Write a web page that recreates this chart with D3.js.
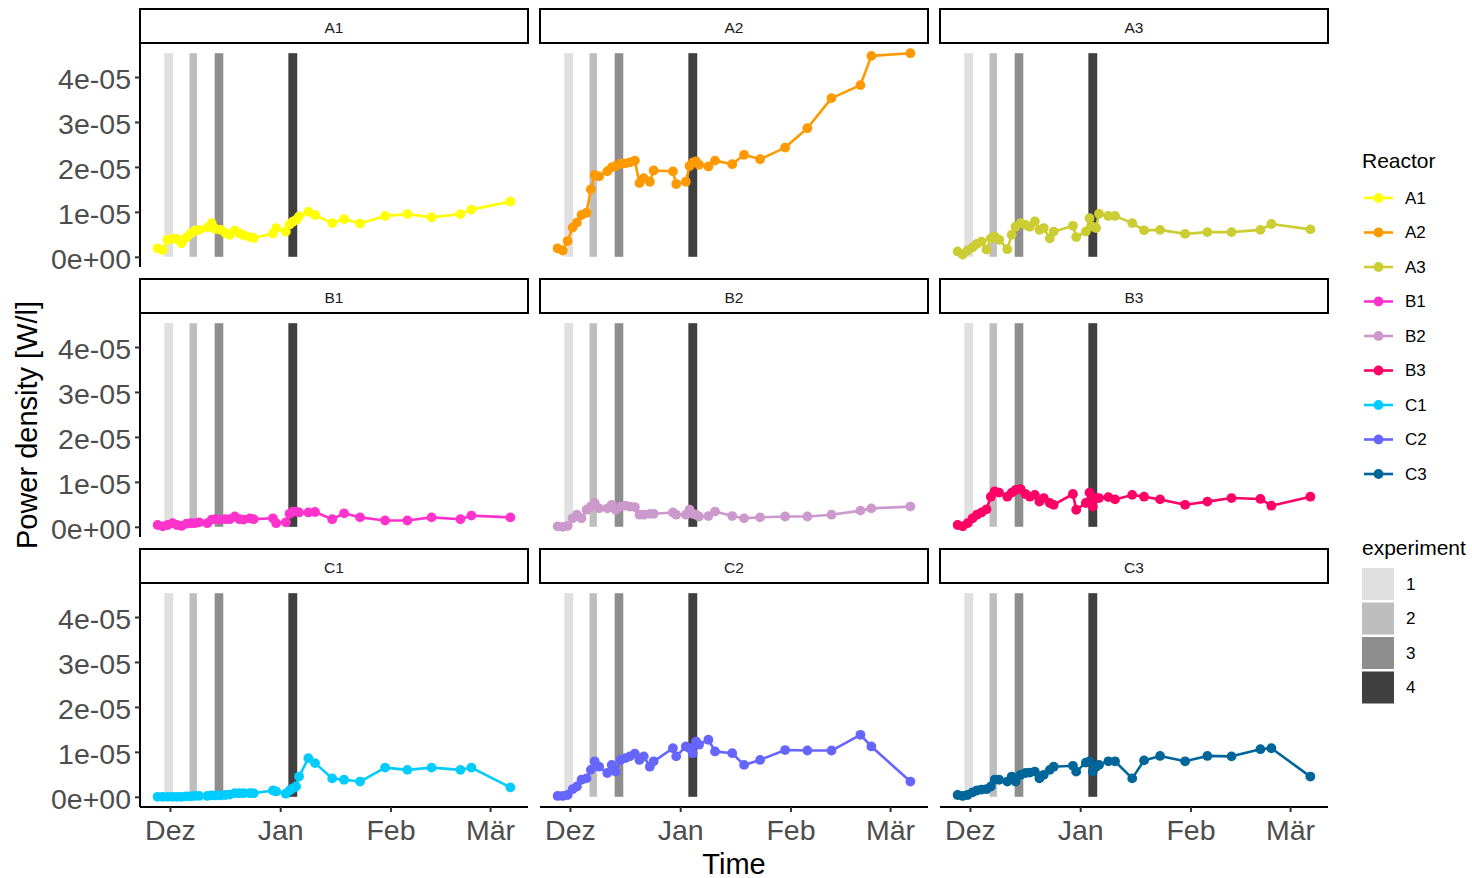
<!DOCTYPE html>
<html>
<head>
<meta charset="utf-8">
<script src="https://cdn.jsdelivr.net/npm/d3@7"></script>
<style>
  body { margin: 0; background: #fff; }
  svg { display: block; font-family: "Liberation Sans", Arial, sans-serif; }
</style>
</head>
<body>
<svg id="chart" width="1472" height="878"></svg>
<script>
// Measurement times shared by all reactors
const times = [
  "2018-11-27 13:00", "2018-11-28 23:00", "2018-11-30 08:00", "2018-12-01 18:00",
  "2018-12-02 23:00", "2018-12-04 06:00", "2018-12-05 16:00", "2018-12-06 21:00",
  "2018-12-07 23:00", "2018-12-09 05:00", "2018-12-11 12:00", "2018-12-12 18:00",
  "2018-12-13 20:00", "2018-12-15 06:00", "2018-12-16 15:00", "2018-12-17 20:00",
  "2018-12-19 06:00", "2018-12-20 13:00", "2018-12-21 18:00", "2018-12-23 11:00",
  "2018-12-24 13:00", "2018-12-29 23:00", "2018-12-30 21:00", "2019-01-02 14:00",
  "2019-01-03 15:00", "2019-01-04 13:00", "2019-01-05 11:00", "2019-01-06 07:00",
  "2019-01-08 22:00", "2019-01-10 19:00", "2019-01-15 15:00", "2019-01-18 23:00",
  "2019-01-23 11:00", "2019-01-30 12:00", "2019-02-05 18:00", "2019-02-12 13:00",
  "2019-02-20 16:00", "2019-02-23 18:00", "2019-03-06 17:00"
];

const reactors = ["A1", "A2", "A3", "B1", "B2", "B3", "C1", "C2", "C3"];
const reactorColors = ["#FFFF00", "#FF9900", "#CCCC33", "#FF33CC", "#CC99CC",
                       "#FF0066", "#00CCFF", "#6666FF", "#006699"];

// Power density per reactor, in units of 1e-05 W/l
const powerA1 = [0.19, 0.15, 0.38, 0.40, 0.40, 0.30, 0.43, 0.52, 0.58, 0.60, 0.65, 0.75, 0.62,
                 0.60, 0.53, 0.49, 0.58, 0.52, 0.48, 0.44, 0.42, 0.52, 0.64, 0.56, 0.72, 0.78,
                 0.82, 0.90, 1.00, 0.93, 0.75, 0.84, 0.74, 0.91, 0.95, 0.88, 0.95, 1.05, 1.23];
const powerA2 = [0.19, 0.14, 0.35, 0.65, 0.76, 0.93, 0.98, 1.50, 1.82, 1.79, 1.90, 1.99, 2.02,
                 2.07, 2.08, 2.10, 2.14, 1.64, 1.75, 1.67, 1.92, 1.90, 1.62, 1.67, 2.02, 2.10,
                 2.12, 2.05, 2.01, 2.14, 2.06, 2.27, 2.17, 2.43, 2.86, 3.53, 3.82, 4.47, 4.53];
const powerA3 = [0.12, 0.05, 0.14, 0.21, 0.29, 0.34, 0.16, 0.41, 0.45, 0.38, 0.17, 0.49, 0.67,
                 0.75, 0.71, 0.67, 0.79, 0.60, 0.64, 0.41, 0.56, 0.69, 0.44, 0.56, 0.86, 0.67,
                 0.64, 0.96, 0.91, 0.91, 0.75, 0.59, 0.60, 0.51, 0.55, 0.55, 0.60, 0.73, 0.61];
const powerB1 = [0.04, 0.01, 0.04, 0.08, 0.04, 0.02, 0.07, 0.08, 0.08, 0.10, 0.08, 0.16, 0.17,
                 0.16, 0.17, 0.17, 0.23, 0.17, 0.16, 0.19, 0.17, 0.19, 0.08, 0.10, 0.29, 0.34,
                 0.34, 0.32, 0.32, 0.33, 0.17, 0.30, 0.21, 0.14, 0.14, 0.21, 0.17, 0.25, 0.21];
const powerB2 = [0.01, 0.00, 0.02, 0.19, 0.27, 0.19, 0.38, 0.45, 0.53, 0.41, 0.41, 0.49, 0.38,
                 0.45, 0.47, 0.45, 0.44, 0.27, 0.27, 0.29, 0.29, 0.32, 0.27, 0.27, 0.38, 0.29,
                 0.27, 0.23, 0.24, 0.34, 0.24, 0.19, 0.21, 0.23, 0.23, 0.27, 0.36, 0.41, 0.45];
const powerB3 = [0.04, 0.01, 0.08, 0.19, 0.27, 0.32, 0.39, 0.67, 0.79, 0.76, 0.67, 0.76, 0.82,
                 0.84, 0.73, 0.67, 0.71, 0.56, 0.64, 0.53, 0.49, 0.73, 0.38, 0.53, 0.76, 0.45,
                 0.64, 0.64, 0.66, 0.61, 0.71, 0.67, 0.61, 0.49, 0.56, 0.64, 0.62, 0.47, 0.67];
const powerC1 = [0.00, 0.00, 0.00, 0.00, 0.00, 0.00, 0.01, 0.01, 0.02, 0.02, 0.02, 0.03, 0.03,
                 0.03, 0.04, 0.05, 0.08, 0.08, 0.08, 0.08, 0.08, 0.14, 0.12, 0.07, 0.14, 0.19,
                 0.23, 0.45, 0.86, 0.75, 0.41, 0.38, 0.34, 0.65, 0.60, 0.65, 0.60, 0.65, 0.21];
const powerC2 = [0.02, 0.02, 0.04, 0.17, 0.23, 0.38, 0.41, 0.60, 0.79, 0.67, 0.53, 0.71, 0.56,
                 0.82, 0.86, 0.90, 0.96, 0.82, 0.90, 0.67, 0.79, 1.08, 0.90, 1.12, 1.08, 0.97,
                 1.23, 1.16, 1.27, 1.01, 0.97, 0.71, 0.82, 1.04, 1.03, 1.03, 1.38, 1.12, 0.34];
const powerC3 = [0.04, 0.02, 0.04, 0.10, 0.14, 0.16, 0.17, 0.23, 0.38, 0.38, 0.34, 0.45, 0.34,
                 0.49, 0.53, 0.54, 0.56, 0.41, 0.49, 0.60, 0.67, 0.69, 0.56, 0.76, 0.79, 0.56,
                 0.67, 0.71, 0.79, 0.79, 0.41, 0.81, 0.91, 0.79, 0.91, 0.90, 1.06, 1.08, 0.45];

// Experiment periods (shaded bands)
const experiments = ["1", "2", "3", "4"];
const expStart = ["2018-11-29 10:00", "2018-12-06 12:00", "2018-12-13 14:00", "2019-01-03 07:00"];
const expEnd   = ["2018-12-01 22:00", "2018-12-08 14:00", "2018-12-16 00:00", "2019-01-05 19:00"];
const expColors = ["#E0E0E0", "#BEBEBE", "#8E8E8E", "#404040"];

// Axis ticks
const yTickValues = [0, 1, 2, 3, 4];
const yTickLabels = ["0e+00", "1e-05", "2e-05", "3e-05", "4e-05"];
const xTickDates = ["2018-12-01 00:00", "2019-01-01 00:00", "2019-02-01 00:00", "2019-03-01 00:00"];
const xTickLabels = ["Dez", "Jan", "Feb", "Mär"];

// ---------------------------------------------------------------------------
const parse = d3.timeParse("%Y-%m-%d %H:%M");
const dates = times.map(parse);
const powerSeries = [powerA1, powerA2, powerA3, powerB1, powerB2, powerB3, powerC1, powerC2, powerC3];
const series = reactors.map((name, i) => ({
  name, color: reactorColors[i],
  points: dates.map((d, j) => ({ date: d, value: powerSeries[i][j] }))
}));
const bands = experiments.map((e, i) => ({
  id: e, start: parse(expStart[i]), end: parse(expEnd[i]), color: expColors[i]
}));

// Layout of the 3 x 3 facet grid
const panelX0 = 140, colPitch = 400, panelW = 388;
const panelY0 = 43, rowPitch = 270, panelH = 224, stripH = 34;
const pointR = 4.9, lineW = 2.6, tickFont = 28.5;

// Shared scales with 5% padding on both sides
const [t0, t1] = d3.extent(dates);
const tPad = (t1 - t0) * 0.05;
const x = d3.scaleTime().domain([new Date(+t0 - tPad), new Date(+t1 + tPad)]).range([0, panelW]);

const allValues = powerSeries.flat();
const vMin = d3.min(allValues), vMax = d3.max(allValues);
const vPad = (vMax - vMin) * 0.05;
const y = d3.scaleLinear().domain([vMin - vPad, vMax + vPad]).range([panelH, 0]);

const svg = d3.select("#chart");

const line = d3.line().x(d => x(d.date)).y(d => y(d.value));

series.forEach((s, i) => {
  const col = i % 3, row = Math.floor(i / 3);
  const g = svg.append("g")
    .attr("transform", `translate(${panelX0 + col * colPitch},${panelY0 + row * rowPitch})`);

  // experiment bands
  g.selectAll("rect.band").data(bands).join("rect")
    .attr("class", "band")
    .attr("x", d => x(d.start))
    .attr("width", d => x(d.end) - x(d.start))
    .attr("y", y(vMax))
    .attr("height", y(0) - y(vMax))
    .attr("fill", d => d.color);

  g.append("path")
    .datum(s.points)
    .attr("d", line)
    .attr("fill", "none")
    .attr("stroke", s.color)
    .attr("stroke-width", lineW)
    .attr("stroke-linejoin", "round");

  g.selectAll("circle").data(s.points).join("circle")
    .attr("cx", d => x(d.date))
    .attr("cy", d => y(d.value))
    .attr("r", pointR)
    .attr("fill", s.color);

  // strip
  g.append("rect")
    .attr("x", 0).attr("y", -stripH)
    .attr("width", panelW).attr("height", stripH)
    .attr("fill", "#fff").attr("stroke", "#000").attr("stroke-width", 2);
  g.append("text")
    .attr("x", panelW / 2).attr("y", -stripH / 2 + 1)
    .attr("text-anchor", "middle").attr("dominant-baseline", "central")
    .attr("font-size", 15.5).attr("fill", "#1A1A1A")
    .text(s.name);

  // left axis on first column
  if (col === 0) {
    const ax = g.append("g").call(
      d3.axisLeft(y).tickValues(yTickValues)
        .tickFormat((d, k) => yTickLabels[k]).tickSize(5).tickPadding(4));
    ax.select(".domain").attr("stroke", "#000").attr("stroke-width", 2)
      .attr("d", `M0,0V${panelH}`);
    ax.selectAll(".tick line").attr("stroke", "#333").attr("stroke-width", 2);
    ax.selectAll(".tick text").attr("font-size", tickFont).attr("fill", "#4D4D4D")
      .attr("dy", "0.40em")
      .attr("font-family", "Liberation Sans, Arial, sans-serif");
  }
  // bottom axis on last row
  if (row === 2) {
    const tickDates = xTickDates.map(parse);
    const ax = g.append("g").attr("transform", `translate(0,${panelH})`).call(
      d3.axisBottom(x).tickValues(tickDates)
        .tickFormat((d, k) => xTickLabels[k]).tickSize(5).tickPadding(8));
    ax.select(".domain").attr("stroke", "#000").attr("stroke-width", 2)
      .attr("d", `M0,0H${panelW}`);
    ax.selectAll(".tick line").attr("stroke", "#333").attr("stroke-width", 2);
    ax.selectAll(".tick text").attr("font-size", tickFont).attr("fill", "#4D4D4D")
      .attr("font-family", "Liberation Sans, Arial, sans-serif");
  }
});

// axis titles
svg.append("text")
  .attr("transform", `translate(27,${panelY0 + (2 * rowPitch + panelH) / 2}) rotate(-90)`)
  .attr("text-anchor", "middle").attr("dominant-baseline", "central")
  .attr("font-size", 29).attr("fill", "#000")
  .text("Power density [W/l]");
svg.append("text")
  .attr("x", panelX0 + (2 * colPitch + panelW) / 2).attr("y", 874)
  .attr("text-anchor", "middle")
  .attr("font-size", 29).attr("fill", "#000")
  .text("Time");

// legends
const legX = 1362;
svg.append("text").attr("x", legX).attr("y", 160)
  .attr("dominant-baseline", "central").attr("font-size", 21).attr("fill", "#000")
  .text("Reactor");
const rg = svg.append("g").selectAll("g").data(series).join("g")
  .attr("transform", (d, i) => `translate(${legX},${198 + i * 34.5})`);
rg.append("line").attr("x1", 2).attr("x2", 31).attr("y1", 0).attr("y2", 0)
  .attr("stroke", d => d.color).attr("stroke-width", lineW);
rg.append("circle").attr("cx", 16.5).attr("cy", 0).attr("r", pointR).attr("fill", d => d.color);
rg.append("text").attr("x", 43).attr("y", 0).attr("dominant-baseline", "central")
  .attr("font-size", 17).attr("fill", "#000").text(d => d.name);

svg.append("text").attr("x", legX).attr("y", 547)
  .attr("dominant-baseline", "central").attr("font-size", 21).attr("fill", "#000")
  .text("experiment");
const eg = svg.append("g").selectAll("g").data(bands).join("g")
  .attr("transform", (d, i) => `translate(${legX},${568 + i * 34.5})`);
eg.append("rect").attr("x", 0).attr("y", 0).attr("width", 32).attr("height", 32)
  .attr("fill", d => d.color);
eg.append("text").attr("x", 44).attr("y", 16).attr("dominant-baseline", "central")
  .attr("font-size", 17).attr("fill", "#000").text(d => d.id);
</script>
</body>
</html>
